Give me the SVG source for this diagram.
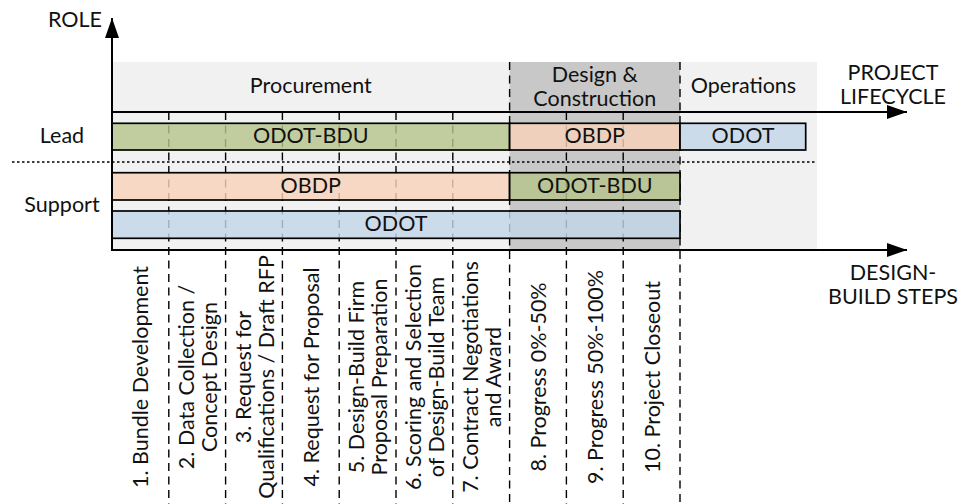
<svg xmlns="http://www.w3.org/2000/svg" width="966" height="504" viewBox="0 0 966 504">
<style>
text{font-family:Lato,"Open Sans","Liberation Sans",sans-serif;font-size:21.5px;fill:#111;}
.m{text-anchor:middle;}
.e{text-anchor:end;}
.bar{stroke:#000;stroke-width:1.7;fill-opacity:0.82;}
.g{fill:#b6c48b;}
.p{fill:#f6d2b9;}
.b{fill:#c3d6e7;}
.dash{stroke:#000;stroke-width:1.4;stroke-dasharray:8,5.5;fill:none;}
.axis{stroke:#000;stroke-width:2;fill:none;}
</style>
<defs>
<marker id="ah" viewBox="0 0 20 14" refX="20" refY="7" markerWidth="20" markerHeight="14" markerUnits="userSpaceOnUse" orient="auto">
<path d="M0,0 L20,7 L0,14 Z" fill="#000"/>
</marker>
</defs>

<g id="backgrounds">
<rect x="112" y="62" width="705" height="188" fill="#f1f1f1"/>
<rect x="509.6" y="62" width="170.4" height="188" fill="#c8c8c8"/>
</g>

<g id="phase-headers">
<g id="procurement"><text class="m" x="310.8" y="93">Procurement</text></g>
<g id="design-construction"><text class="m" x="594.8" y="81.5">Design &amp;</text><text class="m" x="594.8" y="105.5">Construction</text></g>
<g id="operations"><text class="m" x="743.5" y="93">Operations</text></g>
</g>

<g id="step-dividers">
<line class="dash" x1="168.8" y1="112" x2="168.8" y2="504"/>
<line class="dash" x1="225.6" y1="112" x2="225.6" y2="504"/>
<line class="dash" x1="282.4" y1="112" x2="282.4" y2="504"/>
<line class="dash" x1="339.2" y1="112" x2="339.2" y2="504"/>
<line class="dash" x1="396" y1="112" x2="396" y2="504"/>
<line class="dash" x1="452.8" y1="112" x2="452.8" y2="504"/>
<line class="dash" x1="509.6" y1="62" x2="509.6" y2="504"/>
<line class="dash" x1="566.4" y1="112" x2="566.4" y2="504"/>
<line class="dash" x1="623.2" y1="112" x2="623.2" y2="504"/>
<line class="dash" x1="680" y1="62" x2="680" y2="504"/>
</g>

<line id="role-divider" x1="12" y1="162" x2="817" y2="162" stroke="#000" stroke-width="1.5" stroke-dasharray="2.5,2.5"/>

<g id="lead-odot-bdu"><rect class="bar g" x="112" y="123.3" width="397.6" height="26.7"/><text class="m" x="310.8" y="143">ODOT-BDU</text></g>
<g id="lead-obdp"><rect class="bar p" x="509.6" y="123.3" width="170.4" height="26.7"/><text class="m" x="594.8" y="143">OBDP</text></g>
<g id="lead-odot"><rect class="bar b" x="680" y="123.3" width="125.7" height="26.7"/><text class="m" x="743" y="143">ODOT</text></g>
<g id="support-obdp"><rect class="bar p" x="112" y="172.7" width="397.6" height="27.3"/><text class="m" x="310.8" y="193">OBDP</text></g>
<g id="support-odot-bdu"><rect class="bar g" x="509.6" y="172.7" width="170.4" height="27.3"/><text class="m" x="594.8" y="193">ODOT-BDU</text></g>
<g id="support-odot"><rect class="bar b" x="112" y="211" width="568" height="27.3"/><text class="m" x="396" y="231">ODOT</text></g>

<g id="connectors">
<line class="axis" x1="112" y1="251" x2="112" y2="18" marker-end="url(#ah)"/>
<line class="axis" x1="112" y1="112" x2="907" y2="112" marker-end="url(#ah)"/>
<line class="axis" x1="111" y1="250" x2="907" y2="250" marker-end="url(#ah)"/>
</g>

<g id="axis-labels">
<text class="e" x="102" y="27">ROLE</text>
<text class="m" x="62" y="143">Lead</text>
<text class="m" x="62" y="212">Support</text>
<text class="m" x="893" y="80">PROJECT</text>
<text class="m" x="893" y="104">LIFECYCLE</text>
<text class="m" x="893" y="279.5">DESIGN-</text>
<text class="m" x="893" y="303.5">BUILD STEPS</text>
</g>

<g id="steps">
<g id="step1" transform="translate(140.4,377) rotate(-90)"><text class="m" x="0" y="8">1. Bundle Development</text></g>
<g id="step2" transform="translate(197.2,377) rotate(-90)"><text class="m" x="0" y="-3.5">2. Data Collection /</text><text class="m" x="0" y="19.5">Concept Design</text></g>
<g id="step3" transform="translate(254,377) rotate(-90)"><text class="m" x="0" y="-3.5">3. Request for</text><text class="m" x="0" y="19.5">Qualifications / Draft RFP</text></g>
<g id="step4" transform="translate(310.8,377) rotate(-90)"><text class="m" x="0" y="8">4. Request for Proposal</text></g>
<g id="step5" transform="translate(367.6,377) rotate(-90)"><text class="m" x="0" y="-3.5">5. Design-Build Firm</text><text class="m" x="0" y="19.5">Proposal Preparation</text></g>
<g id="step6" transform="translate(424.4,377) rotate(-90)"><text class="m" x="0" y="-3.5">6. Scoring and Selection</text><text class="m" x="0" y="19.5">of Design-Build Team</text></g>
<g id="step7" transform="translate(481.2,377) rotate(-90)"><text class="m" x="0" y="-3.5">7. Contract Negotiations</text><text class="m" x="0" y="19.5">and Award</text></g>
<g id="step8" transform="translate(538,377) rotate(-90)"><text class="m" x="0" y="8">8. Progress 0%-50%</text></g>
<g id="step9" transform="translate(594.8,377) rotate(-90)"><text class="m" x="0" y="8">9. Progress 50%-100%</text></g>
<g id="step10" transform="translate(651.6,377) rotate(-90)"><text class="m" x="0" y="8">10. Project Closeout</text></g>
</g>
</svg>
